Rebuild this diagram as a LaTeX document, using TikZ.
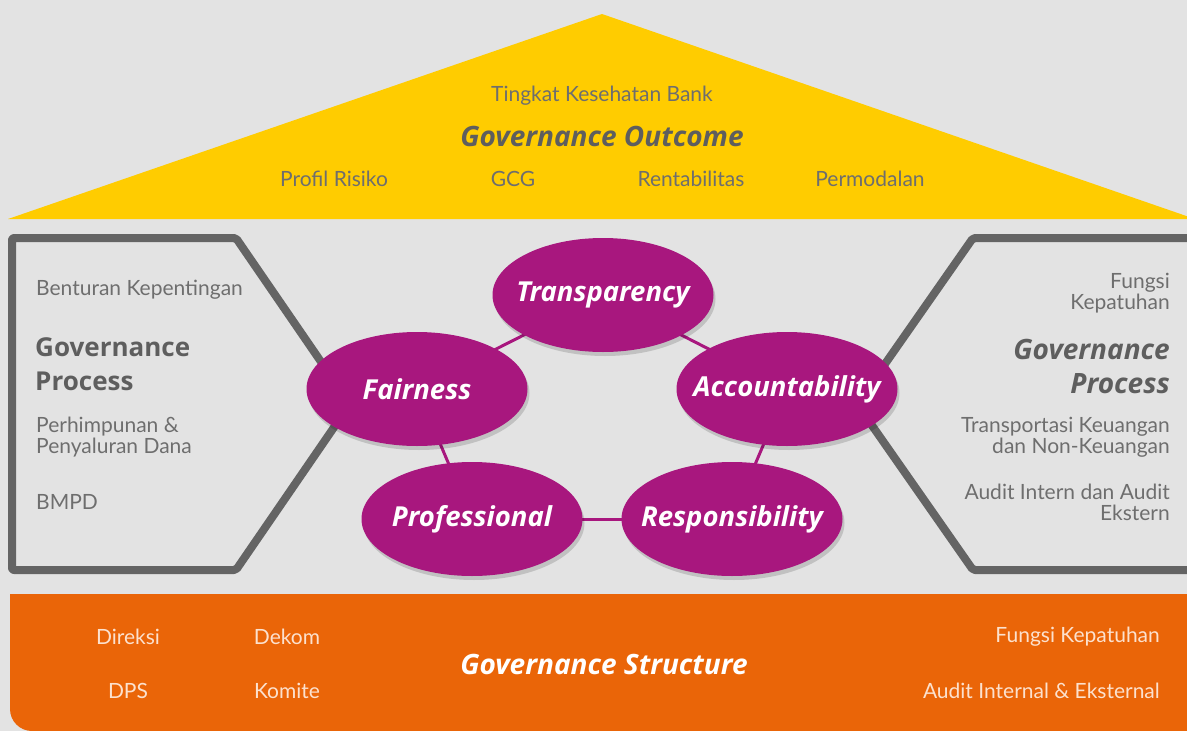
\documentclass[tikz,border=0pt]{standalone}
\usepackage{fontspec}
\setmainfont{Lato}
\newfontfamily\osans{Open Sans}
\usetikzlibrary{shapes.geometric,shadows,backgrounds}
\definecolor{bgc}{HTML}{E3E3E3}
\definecolor{yel}{HTML}{FFCC00}
\definecolor{frame}{HTML}{646464}
\definecolor{mag}{HTML}{A8177E}
\definecolor{org}{HTML}{EA6508}
\definecolor{txt}{HTML}{6E6E6E}
\definecolor{txtb}{HTML}{5E5E5E}
\definecolor{peach}{HTML}{FCE1CE}
\begin{document}
\begin{tikzpicture}[x=1pt,y=-1pt,
  reg/.style={text=txt,font=\fontsize{21}{21}\selectfont,inner sep=0pt},
  head/.style={text=txtb,font=\fontsize{28}{34}\selectfont\osans\bfseries\itshape,inner sep=0pt},
  headup/.style={text=txtb,font=\fontsize{26}{34}\selectfont\osans\bfseries,inner sep=0pt},
  onorg/.style={text=peach,font=\fontsize{21}{21}\selectfont,inner sep=0pt},
  val/.style={ellipse,fill=mag,minimum width=221pt,minimum height=114pt,
    inner xsep=-40pt,inner ysep=-20pt,
    text=white,font=\fontsize{27.5}{30}\selectfont\osans\bfseries\itshape,
    drop shadow={shadow xshift=2pt,shadow yshift=-4pt,opacity=0.15,fill=black}},
  link/.style={draw=mag,line width=3pt},
  outline/.style={draw=frame,line width=8pt,line join=round,rounded corners=2pt}
]
\useasboundingbox (0,0) rectangle (1187,731);
\clip (0,0) rectangle (1187,731);

% value ellipses
\node[val] (trans) at (603,295) {Transparency};
\node[val] (fair) at (417,389) {Fairness};
\node[val] (acc) at (787,389) {Accountability};
\node[val] (prof) at (472,519) {Professional};
\node[val] (resp) at (732,519) {Responsibility};

\begin{pgfonlayer}{background}
\fill[bgc] (0,0) rectangle (1187,731);
% roof
\fill[yel] (8,219) -- (602,14) -- (1195,219) -- cycle;
% process frames
\draw[outline] (12,238) -- (236,238) -- (350,404) -- (236,570) -- (12,570) -- cycle;
\draw[outline] (1200,238) -- (973,238) -- (857,404) -- (973,570) -- (1200,570);
% connectors
\draw[link] (trans.center) -- (fair.center);
\draw[link] (trans.center) -- (acc.center);
\draw[link] (fair.center) -- (prof.center);
\draw[link] (acc.center) -- (resp.center);
\draw[link] (prof.center) -- (resp.center);
\end{pgfonlayer}

% roof texts
\node[reg] (tk) at (602,96) {Tingkat Kesehatan Bank};
\node[head] (go) at (602,136) {Governance Outcome};
\node[reg] (pr) at (334,179) {Profil Risiko};
\node[reg] (gcg) at (513,179) {GCG};
\node[reg] (ren) at (691,179) {Rentabilitas};
\node[reg] (pm) at (870,179) {Permodalan};

% left process
\node[reg,anchor=west] (bk) at (36,290) {Benturan Kepentingan};
\node[headup,anchor=west,align=left] (gpl) at (35,364) {Governance\\Process};
\node[reg,anchor=west,align=left] (phd) at (36,437) {Perhimpunan \&\\Penyaluran Dana};
\node[reg,anchor=west] (bmpd) at (36,502) {BMPD};

% right process
\node[reg,anchor=east,align=right] (fk) at (1170,293) {Fungsi\\Kepatuhan};
\node[head,anchor=east,align=right] (gpr) at (1170,366) {Governance\\Process};
\node[reg,anchor=east,align=right] (tku) at (1170,437) {Transportasi Keuangan\\dan Non-Keuangan};
\node[reg,anchor=east,align=right] (aia) at (1170,502) {Audit Intern dan Audit\\Ekstern};

% structure band
\fill[org] (10,594) -- (1195,594) -- (1195,731) -- (32,731)
  arc[start angle=90,end angle=180,radius=22] -- cycle;
\node[onorg] (dir) at (128,637) {Direksi};
\node[onorg] (dek) at (287,637) {Dekom};
\node[onorg] (dps) at (128,691) {DPS};
\node[onorg] (kom) at (287,691) {Komite};
\node[head,text=white] (gs) at (604,664) {Governance Structure};
\node[onorg,anchor=east] (fkp) at (1160,637) {Fungsi Kepatuhan};
\node[onorg,anchor=east] (aie) at (1160,691) {Audit Internal \& Eksternal};
\end{tikzpicture}
\end{document}
